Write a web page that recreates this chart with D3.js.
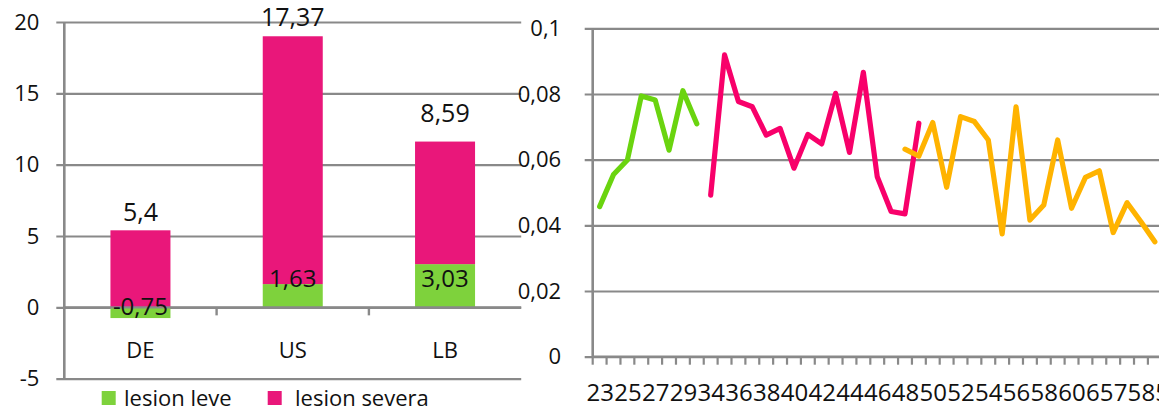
<!DOCTYPE html>
<html>
<head>
<meta charset="utf-8">
<script src="https://cdn.jsdelivr.net/npm/d3@7"></script>
<style>
  html, body { margin: 0; padding: 0; background: #fff; overflow: hidden; }
  svg { display: block; }
  text { font-family: "Open Sans", "Noto Sans", sans-serif; fill: #111; }
</style>
</head>
<body>
<svg id="chart" width="1159" height="411"></svg>
<script>
// ---- Left panel: stacked bars per country ----
const countries = ["DE", "US", "LB"];
const lesionLeve = [-0.75, 1.63, 3.03];
const lesionSevera = [5.4, 17.37, 8.59];
const barTicks = [-5, 0, 5, 10, 15, 20];
const legendLabels = ["lesion leve", "lesion severa"];

// ---- Right panel: rate by age ----
const ages = ["23","24","25","26","27","28","29","30","34","35","36","37","38","39","40","41",
              "42","43","44","45","46","47","48","49","50","51","52","53","54","55","56","57",
              "58","59","60","62","65","70","75","80","85"];
const greenStart = "23";
const greenRates = [0.0457, 0.0555, 0.0599, 0.0794, 0.0782, 0.0629, 0.0810, 0.0709];
const pinkStart = "34";
const pinkRates = [0.0492, 0.0919, 0.0777, 0.0761, 0.0675, 0.0695, 0.0574, 0.0677,
                   0.0648, 0.0802, 0.0622, 0.0866, 0.0548, 0.0442, 0.0435, 0.0711];
const orangeStart = "48";
const orangeRates = [0.0632, 0.0611, 0.0713, 0.0516, 0.0731, 0.0716, 0.0660, 0.0374,
                     0.0761, 0.0416, 0.0462, 0.0660, 0.0452, 0.0546, 0.0566, 0.0378,
                     0.0469, 0.0411, 0.0350];
const rateTicks = [0, 0.02, 0.04, 0.06, 0.08, 0.1];

const GRID = "#898989";
const C_LEVE = "#7ED23C", C_SEVERA = "#E9177A";
const C_GREEN = "#6AD40F", C_PINK = "#F8006A", C_ORANGE = "#FFB300";
const comma = v => String(v).replace(".", ",");

const svg = d3.select("#chart");

// ================= Left panel =================
{
  const left = 64.3, right = 521.2, top = 22, bottom = 378.7;
  const y = d3.scaleLinear().domain([-5, 20]).range([bottom, top]);
  const x = d3.scaleBand().domain(countries).range([left, right])
    .paddingInner(0.606).paddingOuter(0.303);
  const g = svg.append("g");

  // value axis with gridlines
  const yAxis = g.append("g").attr("transform", `translate(${left},0)`)
    .call(d3.axisLeft(y).tickValues(barTicks).tickSize(-(right - left)).tickPadding(25).tickFormat(comma));
  yAxis.select(".domain").remove();
  yAxis.selectAll(".tick line").attr("x1", -8).attr("stroke", GRID).attr("stroke-width", 2.2);
  yAxis.selectAll(".tick text").style("font-size", "22px").attr("fill", "#111");

  // stacked segments: positives stack upward from 0, negatives downward
  const rows = countries.map((c, i) => {
    const lv = lesionLeve[i], sv = lesionSevera[i];
    const lv0 = 0, lv1 = lv;
    const sBase = lv > 0 ? lv : 0;
    return { c, lv, sv, lv0, lv1, s0: sBase, s1: sBase + sv };
  });

  g.selectAll("rect.leve").data(rows).join("rect")
    .attr("x", d => x(d.c)).attr("width", x.bandwidth())
    .attr("y", d => y(Math.max(d.lv0, d.lv1)))
    .attr("height", d => Math.abs(y(d.lv0) - y(d.lv1)))
    .attr("fill", C_LEVE);
  g.selectAll("rect.severa").data(rows).join("rect")
    .attr("x", d => x(d.c)).attr("width", x.bandwidth())
    .attr("y", d => y(d.s1))
    .attr("height", d => y(d.s0) - y(d.s1))
    .attr("fill", C_SEVERA);

  // zero line and category ticks
  g.append("line").attr("x1", left).attr("x2", right).attr("y1", y(0)).attr("y2", y(0))
    .attr("stroke", GRID).attr("stroke-width", 2.4);
  g.selectAll("line.cat").data(countries.slice(1)).join("line")
    .attr("x1", d => x(d) - x.step() * x.paddingInner() / 2)
    .attr("x2", d => x(d) - x.step() * x.paddingInner() / 2)
    .attr("y1", y(0)).attr("y2", y(0) + 8)
    .attr("stroke", GRID).attr("stroke-width", 2.4);
  // vertical axis line
  g.append("line").attr("x1", left).attr("x2", left).attr("y1", top).attr("y2", bottom)
    .attr("stroke", GRID).attr("stroke-width", 2.6);

  // category labels
  g.selectAll("text.cat").data(countries).join("text")
    .attr("x", d => x(d) + x.bandwidth() / 2).attr("y", 358)
    .attr("text-anchor", "middle").style("font-size", "22px").text(d => d);

  // value labels
  const severaLift = [9, 10, 20];
  const leveBaseline = [8, -20, -20];
  g.selectAll("text.sv").data(rows).join("text")
    .attr("x", d => x(d.c) + x.bandwidth() / 2)
    .attr("y", (d, i) => y(d.s1) - severaLift[i])
    .attr("text-anchor", "middle").style("font-size", "25px").text(d => comma(d.sv));
  g.selectAll("text.lv").data(rows).join("text")
    .attr("x", d => x(d.c) + x.bandwidth() / 2)
    .attr("y", (d, i) => y(0) + leveBaseline[i])
    .attr("text-anchor", "middle").style("font-size", "24px").text(d => comma(d.lv));

  // legend
  const lg = g.append("g");
  const items = [
    { label: legendLabels[0], color: C_LEVE, x: 101.7 },
    { label: legendLabels[1], color: C_SEVERA, x: 267.7 }
  ];
  lg.selectAll("rect").data(items).join("rect")
    .attr("x", d => d.x).attr("y", 391).attr("width", 14).attr("height", 14).attr("fill", d => d.color);
  lg.selectAll("text").data(items).join("text")
    .attr("x", (d, i) => d.x + (i === 0 ? 22.3 : 27.3)).attr("y", 405.5)
    .style("font-size", "22px").text(d => d.label);
}

// ================= Right panel =================
{
  const left = 592.7, step = 13.88, right = left + ages.length * step;
  const top = 28.3, bottom = 356.7;
  const y = d3.scaleLinear().domain([0, 0.1]).range([bottom, top]);
  const xb = d3.scaleBand().domain(ages).range([left, right]);
  const xp = d3.scalePoint().domain(ages).range([left, right]).padding(0.5);
  const g = svg.append("g");

  const yAxis = g.append("g").attr("transform", `translate(${left},0)`)
    .call(d3.axisLeft(y).tickValues(rateTicks).tickSize(-(right - left)).tickPadding(31.5).tickFormat(comma));
  yAxis.select(".domain").remove();
  yAxis.selectAll(".tick line").attr("x1", -8).attr("stroke", GRID).attr("stroke-width", 2.2);
  yAxis.selectAll(".tick text").style("font-size", "22px").attr("fill", "#111");

  // category axis: ticks between categories, every other label shown
  const boundaries = ages.map(a => xb(a)).concat([right]);
  g.selectAll("line.xt").data(boundaries).join("line")
    .attr("x1", d => d).attr("x2", d => d)
    .attr("y1", bottom).attr("y2", bottom + 8)
    .attr("stroke", GRID).attr("stroke-width", 2.2);
  const xAxis = g.append("g").attr("transform", `translate(0,${bottom})`)
    .call(d3.axisBottom(xp).tickValues(ages.filter((a, i) => i % 2 === 0)).tickSize(0).tickPadding(27));
  xAxis.select(".domain").remove();
  xAxis.selectAll(".tick text").style("font-size", "24px").attr("fill", "#111");

  g.append("line").attr("x1", left).attr("x2", right).attr("y1", bottom).attr("y2", bottom)
    .attr("stroke", GRID).attr("stroke-width", 2.4);
  g.append("line").attr("x1", left).attr("x2", left).attr("y1", top).attr("y2", bottom)
    .attr("stroke", GRID).attr("stroke-width", 2.6);

  const line = d3.line().x(d => xp(d.age)).y(d => y(d.v));
  const series = [
    { start: greenStart, vals: greenRates, color: C_GREEN },
    { start: pinkStart, vals: pinkRates, color: C_PINK },
    { start: orangeStart, vals: orangeRates, color: C_ORANGE }
  ].map(s => {
    const i0 = ages.indexOf(s.start);
    return { color: s.color, pts: s.vals.map((v, k) => ({ age: ages[i0 + k], v })) };
  });
  g.selectAll("path.series").data(series).join("path")
    .attr("d", d => line(d.pts))
    .attr("fill", "none").attr("stroke", d => d.color)
    .attr("stroke-width", 5.2).attr("stroke-linejoin", "round").attr("stroke-linecap", "round");
}
</script>
</body>
</html>
